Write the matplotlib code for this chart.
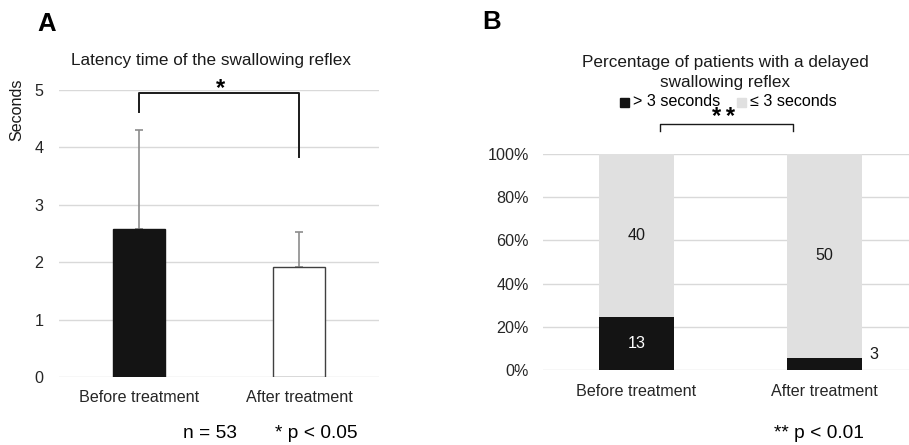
import matplotlib
matplotlib.use("Agg")
import matplotlib.pyplot as plt
import numpy as np

plt.rcParams['font.family'] = ['Liberation Sans', 'DejaVu Sans']

# ---- data ----
categories = ["Before treatment", "After treatment"]
latency_mean = [2.57, 1.92]
latency_sd = [1.74, 0.61]
delayed_counts = [13, 3]        # > 3 seconds
normal_counts = [40, 50]        # <= 3 seconds
yticks_a = [0, 1, 2, 3, 4, 5]
yticks_b = [0, 20, 40, 60, 80, 100]

W, H = 909, 445
fig = plt.figure(figsize=(W / 100, H / 100), dpi=100)

def px_axes(x0, y_top, x1, y_bot):
    return fig.add_axes([x0 / W, 1 - y_bot / H, (x1 - x0) / W, (y_bot - y_top) / H])

dark = "#141414"
grid_c = "#d9d9d9"
light = "#e0e0e0"
fs = 11.6
fs_title = 12.3
fs_note = 13.8

# ---------------- Panel A ----------------
axA = px_axes(59, 90, 379, 377)
x = np.arange(len(categories))
axA.bar(x, latency_mean, width=0.32, color=[dark, "white"],
        edgecolor=[dark, "#404040"], linewidth=1.0, zorder=3)
axA.errorbar(x, latency_mean, yerr=[[0, 0], latency_sd], fmt="none",
             ecolor="#8c8c8c", elinewidth=1.2, capsize=3, capthick=1.2, zorder=2)
axA.set_xlim(-0.5, 1.5)
axA.set_ylim(0, 5)
axA.set_yticks(yticks_a)
axA.set_yticklabels([str(v) for v in yticks_a], fontsize=fs, color="#262626")
axA.set_xticks(x)
axA.set_xticklabels(categories, fontsize=fs, color="#262626")
axA.tick_params(length=0)
axA.tick_params(axis="y", pad=11)
axA.tick_params(axis="x", pad=9)
axA.grid(axis="y", color=grid_c, linewidth=1.0, zorder=0)
for s in axA.spines.values():
    s.set_visible(False)
# significance bracket
axA.plot([0, 0, 1, 1], [4.61, 4.95, 4.95, 3.84], color="#1a1a1a", lw=1.4,
         clip_on=False, zorder=4)
axA.text(0.51, 4.82, "*", ha="center", va="bottom", fontsize=17,
         fontweight="bold", clip_on=False)

fig.text(211 / W, 1 - 61 / H, "Latency time of the swallowing reflex",
         ha="center", va="center", fontsize=fs_title, color="#1a1a1a")
fig.text(17 / W, 1 - 110 / H, "Seconds", rotation=90, ha="center", va="center",
         fontsize=fs, color="#1a1a1a")
fig.text(47 / W, 1 - 24 / H, "A", ha="center", va="center", fontsize=18.5,
         fontweight="bold")
fig.text(210 / W, 1 - 433 / H, "n = 53", ha="center", va="center", fontsize=fs_note)
fig.text(316.5 / W, 1 - 433 / H, "* p < 0.05", ha="center", va="center", fontsize=fs_note)

# ---------------- Panel B ----------------
axB = px_axes(543, 154, 909, 370)
totals = [d + n for d, n in zip(delayed_counts, normal_counts)]
pct_d = [100 * d / t for d, t in zip(delayed_counts, totals)]
pct_n = [100 * n / t for n, t in zip(normal_counts, totals)]
axB.bar(x, pct_d, width=0.4, color=dark, zorder=3)
axB.bar(x, pct_n, width=0.4, bottom=pct_d, color=light, zorder=3)
axB.set_xlim(-0.497, 1.449)
axB.set_ylim(0, 100)
axB.set_yticks(yticks_b)
axB.set_yticklabels([f"{v}%" for v in yticks_b], fontsize=fs, color="#262626")
axB.set_xticks(x)
axB.set_xticklabels(categories, fontsize=fs, color="#262626")
axB.tick_params(length=0)
axB.tick_params(axis="y", pad=10)
axB.tick_params(axis="x", pad=10)
axB.grid(axis="y", color=grid_c, linewidth=1.0, zorder=0)
for s in axB.spines.values():
    s.set_visible(False)

# value labels
axB.text(0, pct_d[0] / 2, str(delayed_counts[0]), ha="center", va="center",
         fontsize=fs, color="white", zorder=5)
axB.text(0, pct_d[0] + pct_n[0] / 2, str(normal_counts[0]), ha="center",
         va="center", fontsize=fs, color="#1a1a1a", zorder=5)
axB.text(1, pct_d[1] + pct_n[1] / 2, str(normal_counts[1]), ha="center",
         va="center", fontsize=fs, color="#1a1a1a", zorder=5)
axB.text(1.26, 7, str(delayed_counts[1]), ha="center", va="center",
         fontsize=fs, color="#1a1a1a", zorder=5)

# bracket
axB.plot([0.125, 0.125, 0.832, 0.832], [110.6, 113.9, 113.9, 110.6],
         color="#1a1a1a", lw=1.0, clip_on=False)
axB.text(0.465, 111.5, "*\u2009*", ha="center", va="bottom", fontsize=17,
         fontweight="bold", clip_on=False)

fig.text(725 / W, 1 - 62 / H, "Percentage of patients with a delayed",
         ha="center", va="center", fontsize=fs_title, color="#1a1a1a")
fig.text(725 / W, 1 - 82 / H, "swallowing reflex",
         ha="center", va="center", fontsize=fs_title, color="#1a1a1a")
# legend
fig.patches.append(plt.Rectangle((620 / W, 1 - 107 / H), 9 / W, 9 / H,
                                 transform=fig.transFigure, color=dark))
fig.text(633 / W, 1 - 102 / H, "> 3 seconds", ha="left", va="center", fontsize=fs)
fig.patches.append(plt.Rectangle((737 / W, 1 - 107 / H), 9 / W, 9 / H,
                                 transform=fig.transFigure, color=light))
fig.text(750 / W, 1 - 102 / H, "≤ 3 seconds", ha="left", va="center", fontsize=fs)

fig.text(492 / W, 1 - 22 / H, "B", ha="center", va="center", fontsize=18.5,
         fontweight="bold")
fig.text(818.5 / W, 1 - 433 / H, "** p < 0.01", ha="center", va="center", fontsize=fs_note)

fig.savefig("out.png", dpi=100)
